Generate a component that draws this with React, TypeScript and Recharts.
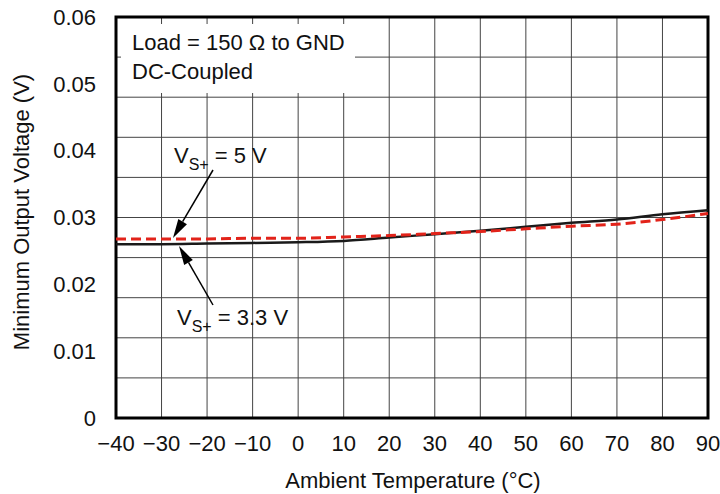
import React from 'react';
import { LineChart, Line, XAxis, YAxis, CartesianGrid, ReferenceArea } from 'recharts';

// ambient temperature (°C)
const temps = [-40, -30, -20, -10, 0, 10, 20, 30, 40, 50, 60, 70, 80, 90];
// minimum output voltage (V), Vs+ = 3.3 V (solid black)
const vs33 = [0.026, 0.026, 0.0261, 0.0262, 0.0263, 0.0265, 0.027, 0.0275, 0.028, 0.0286, 0.0292, 0.0297, 0.0305, 0.0311];
// minimum output voltage (V), Vs+ = 5 V (red dashed)
const vs5 = [0.0268, 0.0268, 0.0268, 0.0269, 0.0269, 0.0271, 0.0273, 0.0276, 0.0279, 0.0283, 0.0287, 0.029, 0.0297, 0.0306];

const xTicks = [-40, -30, -20, -10, 0, 10, 20, 30, 40, 50, 60, 70, 80, 90];
const yTicks = [0, 0.01, 0.02, 0.03, 0.04, 0.05, 0.06];
// the grid splits the y range into 10 rows, not at the labelled ticks
const yGrid = [0.006, 0.012, 0.018, 0.024, 0.03, 0.036, 0.042, 0.048, 0.054];
const xGrid = [-30, -20, -10, 0, 10, 20, 30, 40, 50, 60, 70, 80];

const data = temps.map((t, i) => ({ t, vs33: vs33[i], vs5: vs5[i] }));

const FONT = '"Liberation Sans", Arial, Helvetica, sans-serif';
const FS = 22;

const fmtX = (v: number) => (v < 0 ? '\u2212' + Math.abs(v) : String(v));
const fmtY = (v: number) => (v === 0 ? '0' : v.toFixed(2));

const Arrow = ({ x1, y1, x2, y2 }: { x1: number; y1: number; x2: number; y2: number }) => {
  const a = Math.atan2(y2 - y1, x2 - x1);
  const len = 19;
  const w = 5;
  const bx = x2 - len * Math.cos(a);
  const by = y2 - len * Math.sin(a);
  const px = -Math.sin(a) * w;
  const py = Math.cos(a) * w;
  return (
    <g>
      <line x1={x1} y1={y1} x2={bx} y2={by} stroke="#000" strokeWidth={1.5} />
      <polygon points={`${x2},${y2} ${bx + px},${by + py} ${bx - px},${by - py}`} fill="#000" />
    </g>
  );
};

const Notes = () => (
  <g fontFamily={FONT} fill="#111">
    <rect x={121} y={24} width={234} height={69} fill="#fff" />
    <text x={132} y={50} fontSize={FS}>Load = 150 Ω to GND</text>
    <text x={132} y={79} fontSize={FS}>DC-Coupled</text>

    <text x={174} y={163} fontSize={FS}>
      V<tspan fontSize={16} dy={7}>S+</tspan>
      <tspan dy={-7}> = 5 V</tspan>
    </text>
    <Arrow x1={213} y1={170} x2={173} y2={238} />

    <text x={177} y={325} fontSize={FS}>
      V<tspan fontSize={16} dy={7}>S+</tspan>
      <tspan dy={-7}> = 3.3 V</tspan>
    </text>
    <Arrow x1={213} y1={305} x2={179} y2={246} />

    <text x={413} y={488} fontSize={FS} textAnchor="middle">Ambient Temperature (°C)</text>
    <text x={29} y={212} fontSize={FS} textAnchor="middle" transform="rotate(-90 29 212)">
      Minimum Output Voltage (V)
    </text>
  </g>
);

export default function App() {
  return (
    <div style={{ position: 'absolute', left: 0, top: 0, background: '#fff' }}>
      <LineChart width={720} height={494} data={data} margin={{ top: 17, right: 12, bottom: 0, left: 0 }}>
        <CartesianGrid stroke="#444" strokeWidth={1} horizontalValues={yGrid} verticalValues={xGrid} />
        <XAxis
          dataKey="t"
          type="number"
          domain={[-40, 90]}
          ticks={xTicks}
          tickFormatter={fmtX}
          height={76}
          tickLine={false}
          axisLine={false}
          tickSize={0}
          tickMargin={17}
          tick={{ fill: '#111', fontSize: FS, fontFamily: FONT }}
          interval={0}
        />
        <YAxis
          type="number"
          domain={[0, 0.06]}
          ticks={yTicks}
          tickFormatter={fmtY}
          width={116}
          tickLine={false}
          axisLine={false}
          tickSize={0}
          tickMargin={20}
          tick={{ fill: '#111', fontSize: FS, fontFamily: FONT }}
          interval={0}
        />
        <Notes />
        <Line type="monotone" dataKey="vs33" stroke="#1a1a1a" strokeWidth={2.5} dot={false} isAnimationActive={false} />
        <Line
          type="monotone"
          dataKey="vs5"
          stroke="#e2231a"
          strokeWidth={3}
          strokeDasharray="10 5"
          dot={false}
          isAnimationActive={false}
        />
        <ReferenceArea x1={-40} x2={90} y1={0} y2={0.06} fill="none" stroke="#000" strokeWidth={3} ifOverflow="visible" />
      </LineChart>
    </div>
  );
}
